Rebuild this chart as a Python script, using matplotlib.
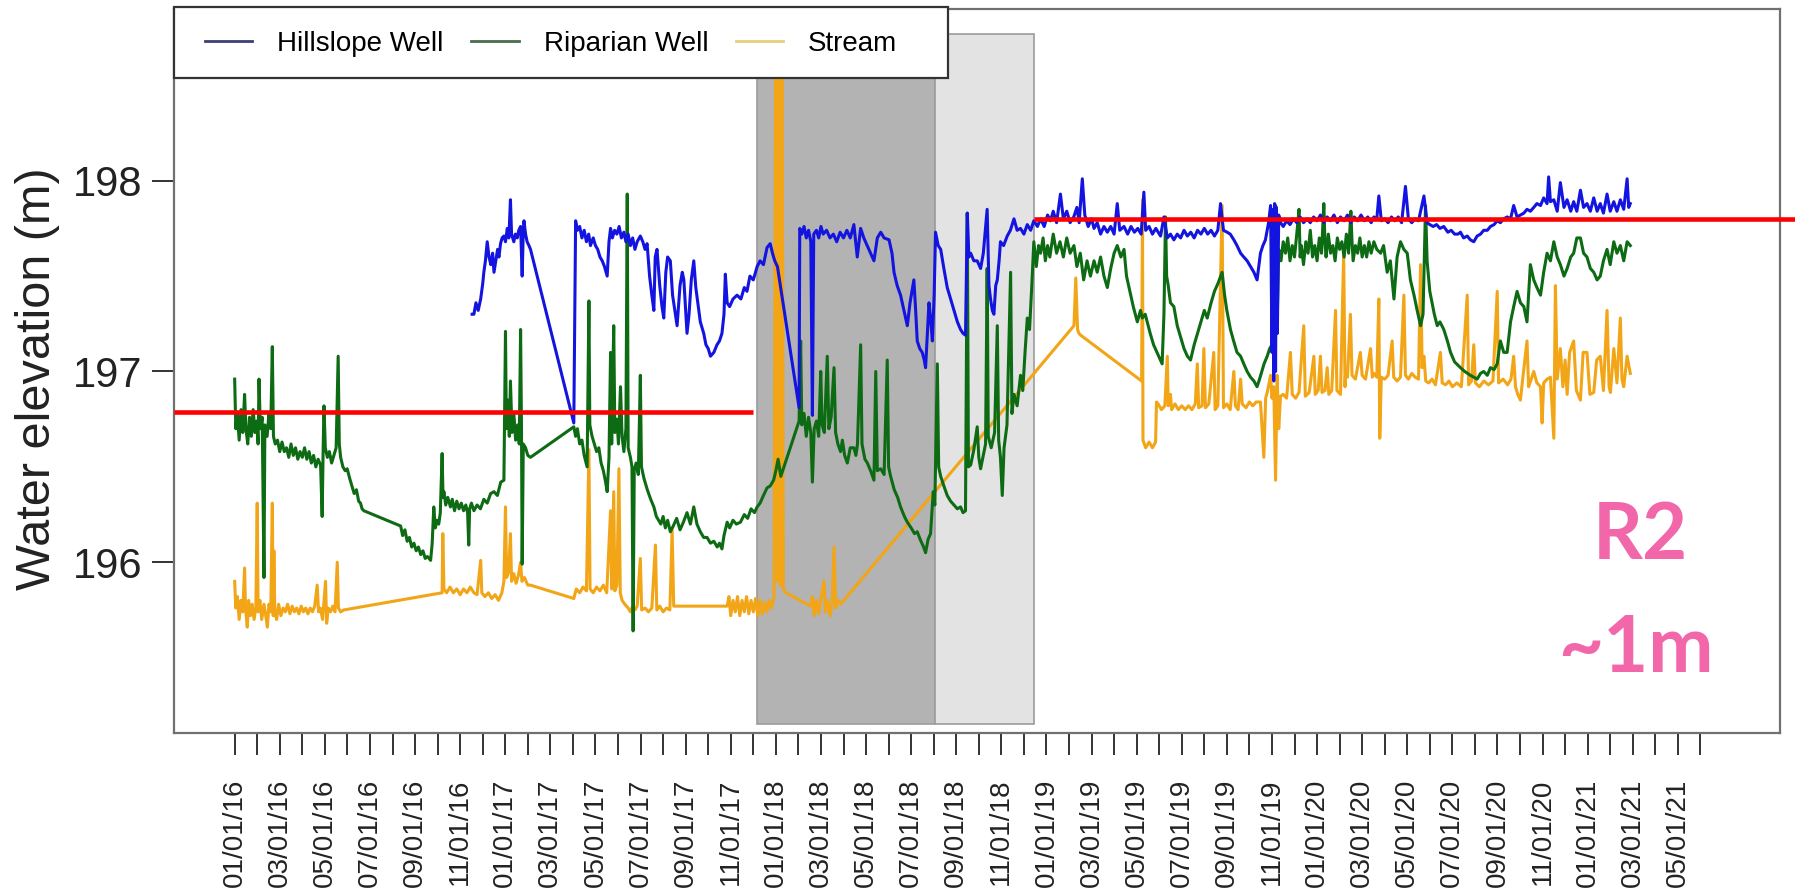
import matplotlib.pyplot as plt
from matplotlib.lines import Line2D
from matplotlib.patches import Rectangle

plt.rcParams['font.family'] = ['Liberation Sans', 'DejaVu Sans']

# time is in months since 01/01/2016, values are water elevation (m)
hillslope = [
    (10.53, 197.30), (10.61, 197.30), (10.70, 197.36), (10.80, 197.32), (10.91, 197.38), (11.00, 197.46),
    (11.05, 197.52), (11.12, 197.58), (11.20, 197.68), (11.28, 197.60), (11.36, 197.56), (11.44, 197.62),
    (11.50, 197.52), (11.58, 197.58), (11.66, 197.64), (11.72, 197.60), (11.79, 197.67), (11.86, 197.70),
    (11.94, 197.71), (12.01, 197.68), (12.09, 197.75), (12.16, 197.70), (12.23, 197.90), (12.28, 197.72),
    (12.38, 197.68), (12.45, 197.72), (12.53, 197.70), (12.60, 197.74), (12.68, 197.76), (12.75, 197.50),
    (12.80, 197.74), (12.83, 197.79), (12.90, 197.72), (12.97, 197.68), (13.05, 197.66), (13.12, 197.64),
    (15.04, 196.73), (15.12, 197.79), (15.20, 197.74), (15.30, 197.76), (15.40, 197.70), (15.50, 197.74),
    (15.60, 197.68), (15.70, 197.72), (15.78, 197.66), (15.90, 197.70), (16.00, 197.66), (16.10, 197.64),
    (16.20, 197.60), (16.30, 197.58), (16.40, 197.55), (16.52, 197.50), (16.60, 197.68), (16.67, 197.75),
    (16.75, 197.70), (16.85, 197.74), (16.95, 197.72), (17.05, 197.76), (17.15, 197.70), (17.26, 197.73),
    (17.35, 197.68), (17.45, 197.72), (17.55, 197.66), (17.65, 197.70), (17.75, 197.64), (17.85, 197.68),
    (17.99, 197.71), (18.10, 197.68), (18.20, 197.64), (18.29, 197.67), (18.40, 197.50), (18.50, 197.40),
    (18.59, 197.32), (18.65, 197.60), (18.73, 197.64), (18.85, 197.45), (18.95, 197.34), (19.03, 197.28),
    (19.12, 197.52), (19.20, 197.60), (19.32, 197.58), (19.42, 197.40), (19.52, 197.32), (19.62, 197.24),
    (19.75, 197.45), (19.85, 197.52), (19.92, 197.48), (20.00, 197.32), (20.06, 197.20), (20.15, 197.30),
    (20.25, 197.48), (20.36, 197.58), (20.45, 197.44), (20.55, 197.35), (20.65, 197.26), (20.80, 197.20),
    (20.90, 197.14), (21.00, 197.12), (21.10, 197.08), (21.25, 197.10), (21.39, 197.14), (21.50, 197.16),
    (21.61, 197.20), (21.70, 197.30), (21.76, 197.51), (21.84, 197.36), (21.95, 197.34), (22.10, 197.38),
    (22.28, 197.40), (22.45, 197.38), (22.60, 197.44), (22.72, 197.42), (22.85, 197.50), (23.00, 197.48),
    (23.17, 197.55), (23.30, 197.58), (23.45, 197.56), (23.61, 197.65), (23.75, 197.67), (23.85, 197.62),
    (23.95, 197.58), (24.07, 197.55), (25.03, 196.81), (25.06, 197.75), (25.15, 197.72), (25.25, 197.76),
    (25.35, 197.70), (25.45, 197.74), (25.55, 197.68), (25.62, 196.77), (25.68, 197.72), (25.80, 197.74),
    (25.90, 197.70), (26.00, 197.76), (26.10, 197.72), (26.25, 197.74), (26.40, 197.70), (26.55, 197.72),
    (26.70, 197.68), (26.85, 197.73), (27.00, 197.70), (27.15, 197.74), (27.30, 197.70), (27.46, 197.77),
    (27.61, 197.60), (27.76, 197.75), (27.90, 197.70), (28.05, 197.66), (28.20, 197.62), (28.35, 197.58),
    (28.50, 197.70), (28.65, 197.73), (28.80, 197.70), (29.02, 197.69), (29.15, 197.62), (29.24, 197.52),
    (29.38, 197.45), (29.53, 197.40), (29.68, 197.32), (29.83, 197.24), (29.95, 197.36), (30.12, 197.48),
    (30.20, 197.32), (30.27, 197.16), (30.38, 197.12), (30.49, 197.10), (30.58, 197.06), (30.64, 197.02),
    (30.72, 197.20), (30.79, 197.36), (30.86, 197.28), (30.94, 197.16), (31.02, 197.40), (31.08, 197.73),
    (31.20, 197.66), (31.31, 197.64), (31.45, 197.54), (31.60, 197.44), (31.75, 197.38), (31.90, 197.32),
    (32.05, 197.26), (32.19, 197.22), (32.30, 197.20), (32.41, 197.19), (32.49, 197.83), (32.56, 197.60),
    (32.64, 197.62), (32.78, 197.58), (32.93, 197.58), (33.08, 197.54), (33.20, 197.62), (33.37, 197.85),
    (33.45, 197.45), (33.52, 197.38), (33.60, 197.32), (33.67, 197.30), (33.75, 197.45), (33.82, 197.48),
    (33.90, 197.58), (33.96, 197.68), (34.10, 197.66), (34.26, 197.71), (34.40, 197.74), (34.56, 197.80),
    (34.70, 197.74), (34.85, 197.75), (35.00, 197.72), (35.15, 197.77), (35.30, 197.74), (35.44, 197.79),
    (35.60, 197.76), (35.74, 197.80), (35.90, 197.76), (36.05, 197.82), (36.18, 197.79), (36.30, 197.84),
    (36.45, 197.78), (36.62, 197.93), (36.75, 197.80), (36.90, 197.84), (37.05, 197.78), (37.21, 197.81),
    (37.35, 197.86), (37.45, 197.78), (37.59, 198.01), (37.70, 197.82), (37.85, 197.76), (38.00, 197.80),
    (38.11, 197.75), (38.25, 197.78), (38.40, 197.72), (38.55, 197.76), (38.70, 197.73), (38.85, 197.76),
    (39.00, 197.72), (39.14, 197.88), (39.25, 197.74), (39.44, 197.76), (39.60, 197.72), (39.75, 197.76),
    (39.90, 197.73), (40.05, 197.75), (40.20, 197.72), (40.32, 197.94), (40.40, 197.74), (40.55, 197.76),
    (40.70, 197.72), (40.85, 197.75), (41.06, 197.71), (41.21, 197.81), (41.36, 197.70), (41.50, 197.72),
    (41.65, 197.69), (41.80, 197.72), (41.95, 197.70), (42.10, 197.74), (42.25, 197.71), (42.40, 197.73),
    (42.55, 197.70), (42.70, 197.74), (42.85, 197.72), (43.00, 197.75), (43.15, 197.72), (43.30, 197.74),
    (43.45, 197.71), (43.60, 197.74), (43.72, 197.88), (43.85, 197.74), (44.01, 197.73), (44.15, 197.72),
    (44.31, 197.69), (44.45, 197.66), (44.61, 197.62), (44.75, 197.60), (44.90, 197.58), (45.05, 197.55),
    (45.20, 197.52), (45.34, 197.48), (45.49, 197.62), (45.60, 197.66), (45.71, 197.69), (45.85, 197.78),
    (45.94, 197.87), (46.00, 197.10), (46.04, 197.85), (46.08, 196.95), (46.12, 197.88), (46.16, 197.00),
    (46.20, 197.86), (46.24, 197.20), (46.30, 197.82), (46.38, 197.78), (46.50, 197.76), (46.65, 197.79),
    (46.80, 197.77), (46.95, 197.80), (47.10, 197.78), (47.25, 197.81), (47.40, 197.78), (47.56, 197.80),
    (47.70, 197.78), (47.85, 197.81), (48.00, 197.79), (48.15, 197.82), (48.30, 197.78), (48.45, 197.81),
    (48.60, 197.79), (48.75, 197.82), (48.90, 197.78), (49.04, 197.81), (49.20, 197.79), (49.35, 197.82),
    (49.50, 197.78), (49.65, 197.81), (49.80, 197.79), (49.95, 197.82), (50.10, 197.79), (50.25, 197.81),
    (50.40, 197.78), (50.52, 197.81), (50.65, 197.80), (50.74, 197.92), (50.85, 197.79), (51.00, 197.80),
    (51.15, 197.78), (51.30, 197.81), (51.45, 197.79), (51.60, 197.81), (51.75, 197.78), (51.92, 197.97),
    (52.05, 197.80), (52.20, 197.78), (52.35, 197.80), (52.50, 197.79), (52.74, 197.92), (52.88, 197.78),
    (53.00, 197.77), (53.15, 197.76), (53.30, 197.77), (53.45, 197.75), (53.62, 197.76), (53.80, 197.73),
    (53.95, 197.74), (54.10, 197.72), (54.25, 197.72), (54.36, 197.73), (54.50, 197.70), (54.66, 197.71),
    (54.80, 197.69), (54.95, 197.68), (55.10, 197.71), (55.25, 197.72), (55.39, 197.74), (55.55, 197.74),
    (55.69, 197.76), (55.85, 197.77), (55.99, 197.79), (56.13, 197.78), (56.28, 197.80), (56.43, 197.81),
    (56.58, 197.80), (56.72, 197.87), (56.87, 197.81), (57.02, 197.82), (57.17, 197.83), (57.31, 197.85),
    (57.46, 197.84), (57.61, 197.86), (57.75, 197.88), (57.91, 197.87), (58.05, 197.91), (58.20, 197.88),
    (58.27, 198.02), (58.35, 197.89), (58.50, 197.90), (58.65, 197.84), (58.79, 197.99), (58.95, 197.86),
    (59.09, 197.90), (59.25, 197.84), (59.38, 197.89), (59.52, 197.84), (59.68, 197.95), (59.82, 197.86),
    (59.97, 197.88), (60.12, 197.84), (60.27, 197.91), (60.42, 197.84), (60.56, 197.88), (60.70, 197.83),
    (60.86, 197.93), (61.00, 197.84), (61.16, 197.89), (61.30, 197.84), (61.45, 197.90), (61.60, 197.85),
    (61.75, 198.01), (61.82, 197.86), (61.89, 197.88),
]

riparian = [
    (0.00, 196.96), (0.05, 196.70), (0.12, 196.78), (0.20, 196.64), (0.28, 196.80), (0.36, 196.68),
    (0.44, 196.88), (0.50, 196.70), (0.58, 196.62), (0.66, 196.76), (0.74, 196.66), (0.82, 196.80),
    (0.90, 196.68), (0.98, 196.74), (1.04, 196.62), (1.08, 196.96), (1.14, 196.70), (1.22, 196.76),
    (1.30, 195.92), (1.34, 196.72), (1.44, 196.66), (1.52, 196.78), (1.60, 196.70), (1.67, 197.13),
    (1.72, 196.66), (1.80, 196.62), (1.90, 196.64), (2.00, 196.58), (2.10, 196.63), (2.20, 196.58),
    (2.30, 196.60), (2.40, 196.55), (2.50, 196.62), (2.60, 196.56), (2.70, 196.60), (2.80, 196.54),
    (2.90, 196.58), (3.00, 196.55), (3.10, 196.60), (3.20, 196.54), (3.30, 196.58), (3.40, 196.52),
    (3.50, 196.56), (3.60, 196.50), (3.70, 196.54), (3.81, 196.51), (3.88, 196.24), (3.92, 196.56),
    (3.96, 196.82), (4.02, 196.60), (4.11, 196.55), (4.20, 196.58), (4.30, 196.52), (4.40, 196.56),
    (4.50, 196.60), (4.59, 197.08), (4.64, 196.62), (4.70, 196.55), (4.80, 196.50), (4.90, 196.48),
    (4.99, 196.49), (5.10, 196.44), (5.20, 196.40), (5.30, 196.36), (5.40, 196.38), (5.50, 196.32),
    (5.58, 196.31), (5.65, 196.28), (5.73, 196.27), (7.36, 196.19), (7.45, 196.14), (7.55, 196.17),
    (7.65, 196.11), (7.75, 196.13), (7.85, 196.08), (7.95, 196.10), (8.05, 196.06), (8.15, 196.08),
    (8.25, 196.04), (8.35, 196.06), (8.45, 196.02), (8.55, 196.03), (8.69, 196.01), (8.76, 196.10),
    (8.83, 196.29), (8.90, 196.18), (8.97, 196.22), (9.05, 196.20), (9.12, 196.26), (9.20, 196.57),
    (9.24, 196.34), (9.28, 196.37), (9.36, 196.30), (9.45, 196.34), (9.57, 196.29), (9.65, 196.33),
    (9.75, 196.27), (9.85, 196.32), (9.95, 196.28), (10.05, 196.31), (10.15, 196.27), (10.25, 196.30),
    (10.33, 196.26), (10.38, 196.09), (10.42, 196.28), (10.50, 196.31), (10.61, 196.27), (10.75, 196.30),
    (10.90, 196.28), (11.05, 196.33), (11.20, 196.31), (11.35, 196.36), (11.50, 196.37), (11.65, 196.35),
    (11.80, 196.42), (11.94, 196.43), (12.01, 197.21), (12.05, 196.70), (12.12, 196.85), (12.18, 196.66),
    (12.23, 196.95), (12.30, 196.68), (12.38, 196.78), (12.46, 196.64), (12.55, 196.72), (12.62, 196.62),
    (12.68, 197.22), (12.72, 196.70), (12.75, 195.99), (12.80, 196.62), (12.90, 196.60), (13.00, 196.56),
    (13.12, 196.55), (15.04, 196.71), (15.12, 196.66), (15.20, 196.70), (15.30, 196.62), (15.40, 196.64),
    (15.50, 196.56), (15.63, 196.50), (15.71, 197.37), (15.75, 196.72), (15.85, 196.66), (15.95, 196.62),
    (16.05, 196.58), (16.15, 196.60), (16.25, 196.52), (16.35, 196.48), (16.45, 196.42), (16.52, 196.37),
    (16.60, 196.55), (16.67, 197.10), (16.72, 196.62), (16.81, 197.24), (16.86, 196.68), (16.95, 196.75),
    (17.02, 196.62), (17.11, 196.92), (17.18, 196.66), (17.26, 196.58), (17.35, 196.70), (17.41, 197.93),
    (17.45, 196.60), (17.55, 196.55), (17.62, 196.50), (17.67, 195.64), (17.72, 196.48), (17.80, 196.52),
    (17.90, 196.46), (17.99, 196.98), (18.04, 196.50), (18.15, 196.44), (18.30, 196.38), (18.45, 196.33),
    (18.59, 196.29), (18.70, 196.24), (18.80, 196.22), (18.90, 196.20), (19.00, 196.24), (19.10, 196.18),
    (19.20, 196.22), (19.32, 196.16), (19.45, 196.19), (19.60, 196.23), (19.75, 196.17), (19.90, 196.21),
    (20.06, 196.26), (20.21, 196.20), (20.36, 196.29), (20.50, 196.20), (20.65, 196.16), (20.80, 196.13),
    (20.95, 196.13), (21.10, 196.10), (21.25, 196.11), (21.40, 196.08), (21.50, 196.10), (21.61, 196.07),
    (21.70, 196.14), (21.84, 196.21), (21.95, 196.18), (22.10, 196.22), (22.25, 196.20), (22.43, 196.21),
    (22.60, 196.25), (22.75, 196.23), (22.90, 196.28), (23.05, 196.26), (23.17, 196.29), (23.30, 196.31),
    (23.45, 196.35), (23.61, 196.39), (23.75, 196.40), (23.90, 196.43), (24.00, 196.48), (24.10, 196.54),
    (24.22, 196.45), (25.03, 196.74), (25.10, 197.16), (25.15, 196.72), (25.25, 196.78), (25.35, 196.66),
    (25.45, 196.76), (25.55, 196.68), (25.62, 196.42), (25.70, 196.70), (25.80, 196.74), (25.90, 196.66),
    (25.99, 197.00), (26.05, 196.72), (26.15, 196.68), (26.28, 197.08), (26.35, 196.70), (26.45, 196.76),
    (26.58, 197.02), (26.65, 196.68), (26.75, 196.62), (26.87, 196.58), (26.95, 196.64), (27.05, 196.56),
    (27.17, 196.52), (27.30, 196.60), (27.46, 196.60), (27.55, 196.56), (27.62, 196.62), (27.76, 197.14),
    (27.82, 196.62), (27.95, 196.54), (28.06, 196.52), (28.20, 196.48), (28.35, 196.43), (28.43, 197.00),
    (28.50, 196.48), (28.65, 196.49), (28.80, 196.46), (28.94, 197.06), (29.00, 196.50), (29.09, 196.45),
    (29.25, 196.38), (29.40, 196.34), (29.53, 196.29), (29.70, 196.24), (29.83, 196.21), (30.00, 196.18),
    (30.15, 196.15), (30.27, 196.16), (30.40, 196.12), (30.55, 196.08), (30.64, 196.05), (30.75, 196.12),
    (30.86, 196.15), (30.98, 196.37), (31.05, 196.30), (31.16, 197.04), (31.22, 196.50), (31.31, 196.45),
    (31.45, 196.40), (31.60, 196.35), (31.75, 196.32), (31.90, 196.30), (32.05, 196.28), (32.19, 196.29),
    (32.30, 196.26), (32.41, 196.27), (32.49, 197.83), (32.54, 196.50), (32.64, 196.51), (32.78, 196.59),
    (32.93, 196.71), (33.00, 196.55), (33.08, 196.49), (33.20, 196.56), (33.30, 196.62), (33.37, 197.54),
    (33.42, 196.66), (33.55, 196.60), (33.70, 196.68), (33.82, 197.24), (33.88, 196.64), (33.96, 196.55),
    (34.04, 196.35), (34.12, 196.60), (34.25, 196.72), (34.41, 197.52), (34.47, 196.78), (34.56, 196.88),
    (34.70, 196.82), (34.85, 196.98), (34.95, 196.90), (35.05, 197.10), (35.15, 197.28), (35.25, 197.22),
    (35.35, 197.45), (35.44, 197.68), (35.55, 197.55), (35.65, 197.66), (35.74, 197.62), (35.85, 197.70),
    (35.95, 197.58), (36.05, 197.66), (36.15, 197.60), (36.30, 197.72), (36.45, 197.62), (36.60, 197.68),
    (36.75, 197.60), (36.90, 197.70), (37.05, 197.62), (37.22, 197.66), (37.35, 197.55), (37.50, 197.62),
    (37.65, 197.48), (37.80, 197.58), (37.95, 197.50), (38.11, 197.58), (38.25, 197.52), (38.40, 197.60),
    (38.55, 197.50), (38.70, 197.44), (38.85, 197.54), (39.00, 197.62), (39.14, 197.66), (39.30, 197.60),
    (39.44, 197.64), (39.55, 197.50), (39.70, 197.42), (39.85, 197.34), (40.03, 197.26), (40.17, 197.32),
    (40.25, 197.28), (40.38, 197.30), (40.47, 197.26), (40.60, 197.20), (40.75, 197.14), (40.90, 197.10),
    (41.05, 197.06), (41.13, 197.04), (41.21, 197.30), (41.28, 197.81), (41.33, 197.50), (41.40, 197.45),
    (41.50, 197.36), (41.65, 197.34), (41.80, 197.24), (41.95, 197.18), (42.10, 197.12), (42.25, 197.08),
    (42.39, 197.06), (42.55, 197.14), (42.70, 197.20), (42.85, 197.26), (43.00, 197.32), (43.13, 197.28),
    (43.30, 197.36), (43.45, 197.42), (43.60, 197.46), (43.79, 197.52), (43.90, 197.40), (44.00, 197.32),
    (44.16, 197.22), (44.30, 197.16), (44.45, 197.10), (44.61, 197.08), (44.75, 197.04), (44.90, 197.00),
    (45.05, 196.97), (45.20, 196.95), (45.34, 196.92), (45.45, 196.96), (45.55, 197.00), (45.65, 197.04),
    (45.79, 197.08), (45.90, 197.12), (46.00, 197.14), (46.08, 197.16), (46.16, 197.87), (46.22, 197.20),
    (46.30, 197.64), (46.40, 197.58), (46.50, 197.68), (46.60, 197.62), (46.70, 197.70), (46.80, 197.58),
    (46.90, 197.66), (47.00, 197.60), (47.10, 197.72), (47.20, 197.85), (47.25, 197.60), (47.30, 197.66),
    (47.40, 197.56), (47.50, 197.68), (47.60, 197.62), (47.70, 197.74), (47.80, 197.60), (47.90, 197.66),
    (48.00, 197.58), (48.10, 197.70), (48.20, 197.62), (48.30, 197.88), (48.35, 197.68), (48.40, 197.60),
    (48.50, 197.72), (48.60, 197.62), (48.70, 197.66), (48.80, 197.58), (48.90, 197.70), (49.00, 197.64),
    (49.10, 197.68), (49.20, 197.60), (49.30, 197.72), (49.40, 197.62), (49.50, 197.84), (49.55, 197.68),
    (49.60, 197.58), (49.70, 197.66), (49.80, 197.62), (49.90, 197.70), (50.00, 197.60), (50.10, 197.66),
    (50.20, 197.60), (50.30, 197.68), (50.40, 197.62), (50.52, 197.68), (50.65, 197.64), (50.82, 197.62),
    (50.95, 197.66), (51.11, 197.52), (51.25, 197.58), (51.41, 197.38), (51.55, 197.60), (51.70, 197.68),
    (51.85, 197.64), (52.00, 197.62), (52.14, 197.48), (52.30, 197.40), (52.44, 197.32), (52.59, 197.24),
    (52.70, 197.30), (52.81, 197.87), (52.88, 197.58), (53.00, 197.42), (53.10, 197.36), (53.20, 197.30),
    (53.33, 197.24), (53.45, 197.26), (53.62, 197.22), (53.78, 197.16), (53.92, 197.10), (54.10, 197.05),
    (54.36, 197.02), (54.55, 197.00), (54.80, 196.98), (54.95, 196.97), (55.10, 196.96), (55.25, 196.99),
    (55.39, 197.00), (55.55, 196.98), (55.69, 197.02), (55.85, 197.01), (55.99, 197.04), (56.13, 197.16),
    (56.28, 197.10), (56.43, 197.10), (56.58, 197.26), (56.72, 197.34), (56.87, 197.42), (57.02, 197.36),
    (57.17, 197.34), (57.31, 197.26), (57.46, 197.56), (57.61, 197.48), (57.75, 197.44), (57.91, 197.40),
    (58.05, 197.52), (58.20, 197.62), (58.35, 197.58), (58.50, 197.68), (58.65, 197.60), (58.79, 197.56),
    (58.95, 197.50), (59.09, 197.54), (59.25, 197.60), (59.38, 197.62), (59.52, 197.70), (59.68, 197.70),
    (59.82, 197.62), (59.97, 197.60), (60.12, 197.54), (60.27, 197.52), (60.42, 197.48), (60.56, 197.50),
    (60.70, 197.58), (60.86, 197.64), (61.00, 197.56), (61.16, 197.68), (61.30, 197.62), (61.45, 197.66),
    (61.60, 197.58), (61.75, 197.68), (61.89, 197.66),
]

stream = [
    (0.00, 195.90), (0.05, 195.76), (0.12, 195.82), (0.20, 195.70), (0.28, 195.80), (0.36, 195.74),
    (0.44, 195.97), (0.48, 195.76), (0.56, 195.66), (0.62, 195.80), (0.70, 195.72), (0.78, 195.78),
    (0.86, 195.70), (0.94, 195.76), (1.00, 196.31), (1.04, 195.74), (1.12, 195.80), (1.20, 195.70),
    (1.30, 195.78), (1.38, 195.72), (1.45, 195.66), (1.52, 195.78), (1.60, 195.74), (1.67, 196.31),
    (1.71, 195.72), (1.74, 196.06), (1.78, 195.74), (1.86, 195.70), (1.95, 195.78), (2.05, 195.72),
    (2.15, 195.76), (2.25, 195.74), (2.35, 195.78), (2.45, 195.73), (2.55, 195.77), (2.65, 195.74),
    (2.75, 195.76), (2.85, 195.73), (2.95, 195.77), (3.05, 195.74), (3.15, 195.76), (3.25, 195.73),
    (3.35, 195.76), (3.45, 195.74), (3.55, 195.77), (3.66, 195.88), (3.72, 195.74), (3.80, 195.76),
    (3.90, 195.70), (4.03, 195.90), (4.08, 195.68), (4.15, 195.76), (4.25, 195.74), (4.35, 195.77),
    (4.45, 195.74), (4.55, 196.00), (4.60, 195.76), (4.70, 195.74), (4.84, 195.75), (9.20, 195.84),
    (9.23, 196.15), (9.28, 195.86), (9.40, 195.84), (9.55, 195.87), (9.70, 195.84), (9.85, 195.86),
    (10.00, 195.83), (10.15, 195.86), (10.30, 195.84), (10.45, 195.87), (10.61, 195.84), (10.75, 195.83),
    (10.91, 196.01), (10.96, 195.84), (11.10, 195.82), (11.25, 195.84), (11.40, 195.81), (11.55, 195.83),
    (11.70, 195.80), (11.85, 195.84), (11.94, 195.90), (12.01, 196.29), (12.06, 195.92), (12.15, 195.95),
    (12.23, 196.15), (12.28, 195.90), (12.38, 195.94), (12.48, 195.89), (12.58, 195.93), (12.68, 196.00),
    (12.74, 195.90), (12.85, 195.92), (13.00, 195.88), (13.12, 195.88), (15.04, 195.81), (15.15, 195.86),
    (15.30, 195.84), (15.45, 195.87), (15.60, 195.85), (15.71, 196.59), (15.76, 195.86), (15.90, 195.84),
    (16.05, 195.87), (16.20, 195.85), (16.35, 195.88), (16.50, 195.84), (16.67, 196.27), (16.72, 195.86),
    (16.81, 196.37), (16.86, 195.85), (16.95, 195.88), (17.04, 196.49), (17.10, 195.84), (17.18, 195.80),
    (17.30, 195.78), (17.45, 195.76), (17.55, 195.74), (17.65, 195.77), (17.75, 195.75), (17.85, 195.77),
    (17.99, 196.02), (18.05, 195.75), (18.20, 195.76), (18.35, 195.74), (18.50, 195.76), (18.66, 196.09),
    (18.72, 195.75), (18.85, 195.77), (19.00, 195.74), (19.15, 195.76), (19.30, 195.75), (19.40, 196.17),
    (19.47, 195.77), (21.84, 195.77), (21.92, 195.82), (22.00, 195.72), (22.10, 195.80), (22.20, 195.74),
    (22.30, 195.82), (22.40, 195.72), (22.50, 195.80), (22.60, 195.74), (22.70, 195.82), (22.80, 195.73),
    (22.90, 195.80), (23.00, 195.74), (23.10, 195.81), (23.20, 195.72), (23.30, 195.80), (23.40, 195.73),
    (23.50, 195.79), (23.60, 195.74), (23.70, 195.80), (23.80, 195.76), (23.92, 195.82), (24.00, 199.30),
    (24.07, 195.90), (24.13, 199.30), (24.20, 195.88), (24.27, 199.30), (24.33, 195.86), (24.45, 195.84),
    (25.54, 195.77), (25.62, 195.82), (25.70, 195.72), (25.80, 195.80), (25.90, 195.73), (26.00, 195.81),
    (26.14, 195.90), (26.20, 195.74), (26.30, 195.80), (26.40, 195.72), (26.50, 195.79), (26.58, 196.08),
    (26.65, 195.76), (26.75, 195.80), (26.87, 195.78), (37.22, 197.24), (37.30, 197.49), (37.38, 197.22),
    (37.44, 197.20), (37.52, 197.19), (40.22, 196.95), (40.26, 197.90), (40.28, 196.64), (40.40, 196.60),
    (40.55, 196.63), (40.70, 196.60), (40.84, 196.63), (40.88, 196.84), (40.95, 196.83), (41.10, 196.80),
    (41.25, 196.82), (41.36, 197.08), (41.40, 196.82), (41.50, 196.88), (41.55, 196.80), (41.70, 196.83),
    (41.85, 196.80), (42.00, 196.82), (42.15, 196.80), (42.30, 196.82), (42.45, 196.80), (42.60, 196.83),
    (42.69, 197.04), (42.75, 196.81), (42.90, 196.82), (42.98, 197.12), (43.05, 196.81), (43.20, 196.83),
    (43.42, 197.10), (43.48, 196.80), (43.60, 196.82), (43.79, 197.87), (43.85, 196.81), (44.00, 196.83),
    (44.15, 196.80), (44.31, 197.00), (44.38, 196.82), (44.50, 196.80), (44.61, 196.96), (44.68, 196.83),
    (44.85, 196.81), (45.00, 196.84), (45.15, 196.82), (45.30, 196.84), (45.49, 196.84), (45.64, 196.55),
    (45.72, 196.86), (45.79, 196.89), (45.94, 196.98), (46.00, 196.86), (46.08, 196.92), (46.16, 196.43),
    (46.23, 196.98), (46.30, 196.70), (46.38, 196.87), (46.50, 196.88), (46.65, 196.86), (46.82, 197.10),
    (46.90, 196.88), (47.05, 196.86), (47.20, 196.89), (47.41, 197.24), (47.48, 196.87), (47.65, 196.89),
    (47.86, 197.08), (47.92, 196.88), (48.05, 196.90), (48.15, 197.08), (48.22, 196.89), (48.35, 196.90),
    (48.45, 197.02), (48.52, 196.88), (48.65, 196.90), (48.82, 197.32), (48.88, 196.90), (49.04, 196.88),
    (49.18, 197.62), (49.24, 196.92), (49.26, 196.98), (49.35, 196.97), (49.48, 197.30), (49.55, 196.98),
    (49.70, 196.96), (49.92, 197.10), (50.00, 196.98), (50.15, 196.96), (50.37, 197.12), (50.45, 196.97),
    (50.52, 196.99), (50.65, 196.97), (50.74, 197.38), (50.78, 196.65), (50.85, 196.97), (51.00, 196.96),
    (51.15, 196.98), (51.33, 197.16), (51.40, 196.97), (51.55, 196.95), (51.70, 196.97), (51.85, 197.40),
    (51.92, 196.98), (52.05, 196.96), (52.20, 196.99), (52.35, 196.97), (52.50, 196.96), (52.59, 197.56),
    (52.66, 197.02), (52.74, 197.08), (52.82, 196.95), (52.95, 196.94), (53.10, 196.96), (53.25, 196.93),
    (53.47, 197.10), (53.55, 196.94), (53.70, 196.93), (53.85, 196.95), (54.00, 196.92), (54.20, 196.94),
    (54.40, 196.92), (54.66, 197.40), (54.72, 196.93), (54.85, 196.95), (54.95, 197.14), (55.02, 196.94),
    (55.20, 196.92), (55.40, 196.95), (55.60, 196.93), (55.80, 196.95), (55.99, 197.42), (56.05, 196.94),
    (56.25, 196.96), (56.45, 196.93), (56.60, 196.96), (56.72, 197.08), (56.80, 196.92), (56.90, 196.88),
    (57.02, 196.85), (57.10, 196.94), (57.31, 197.16), (57.38, 196.92), (57.50, 196.96), (57.61, 197.00),
    (57.75, 196.94), (57.91, 196.92), (57.98, 196.73), (58.05, 196.94), (58.20, 196.96), (58.35, 196.97),
    (58.50, 196.65), (58.57, 197.45), (58.65, 196.96), (58.79, 197.12), (58.90, 196.92), (59.00, 197.06),
    (59.09, 196.88), (59.20, 197.10), (59.38, 197.16), (59.50, 196.90), (59.68, 196.85), (59.80, 197.10),
    (59.97, 197.10), (60.10, 196.88), (60.27, 196.89), (60.40, 197.06), (60.56, 197.08), (60.70, 196.90),
    (60.86, 197.32), (60.95, 196.92), (61.01, 196.89), (61.16, 197.12), (61.30, 196.94), (61.45, 197.28),
    (61.52, 196.96), (61.60, 196.92), (61.75, 197.08), (61.89, 196.99),
]

month_labels = [
    "01/01/16", "03/01/16", "05/01/16", "07/01/16", "09/01/16", "11/01/16",
    "01/01/17", "03/01/17", "05/01/17", "07/01/17", "09/01/17", "11/01/17",
    "01/01/18", "03/01/18", "05/01/18", "07/01/18", "09/01/18", "11/01/18",
    "01/01/19", "03/01/19", "05/01/19", "07/01/19", "09/01/19", "11/01/19",
    "01/01/20", "03/01/20", "05/01/20", "07/01/20", "09/01/20", "11/01/20",
    "01/01/21", "03/01/21", "05/01/21",
]
n_month_ticks = 66  # one tick per month, 01/16 .. 06/21

# shaded periods (months) and their vertical extent
dark_period = (23.15, 31.06)
light_period = (31.06, 35.45)
shade_range = (195.15, 198.77)

# red reference levels
level_before = 196.79
level_after = 197.80
before_span = (-2.69, 23.0)
after_span = (35.43, 69.2)

fig = plt.figure(figsize=(17.95, 8.96), dpi=100)
ax = fig.add_axes([174 / 1795, 163 / 896, 1606 / 1795, 724 / 896])
ax.set_xlim(-2.69, 68.53)
ax.set_ylim(195.105, 198.90)

for (x0, x1), col in [(dark_period, '#b3b3b3'), (light_period, '#e3e3e3')]:
    ax.add_patch(Rectangle((x0, shade_range[0]), x1 - x0, shade_range[1] - shade_range[0],
                           facecolor=col, edgecolor='#9c9c9c', lw=1.2, zorder=1))

c_hill, c_rip, c_stream = '#1414e0', '#0d6b14', '#f2a516'
t, v = zip(*stream)
ax.plot(t, v, color=c_stream, lw=2.2, zorder=2)
t, v = zip(*riparian)
ax.plot(t, v, color=c_rip, lw=2.2, zorder=3)
t, v = zip(*hillslope)
ax.plot(t, v, color=c_hill, lw=2.2, zorder=4)

ax.plot(before_span, [level_before] * 2, color='#ff0000', lw=3.3, zorder=5, solid_capstyle='butt')
ax.plot(after_span, [level_after] * 2, color='#ff0000', lw=3.3, zorder=5, clip_on=False,
        solid_capstyle='butt')

# axes styling
for s in ax.spines.values():
    s.set_color('#707070')
    s.set_linewidth(1.6)
ax.set_yticks([196, 197, 198])
ax.tick_params(axis='y', length=16, width=1.4, color='#333333', pad=7, labelsize=30,
               labelcolor='#222222')
ax.set_xticks(range(n_month_ticks))
xlabels = []
for i in range(n_month_ticks):
    xlabels.append(month_labels[i // 2] if i % 2 == 0 and i // 2 < len(month_labels) else '')
ax.set_xticklabels(xlabels, rotation=90)
ax.tick_params(axis='x', length=16, width=1.4, color='#333333', pad=17, labelsize=20,
               labelcolor='#222222')

fig.text(38 / 1795, 1 - 379 / 896, 'Water elevation (m)', rotation=90, ha='center', va='center',
         fontsize=35, color='#222222')

# legend with a wide box
ax.add_patch(Rectangle((0, 0.9047), 0.482, 0.098, transform=ax.transAxes, facecolor='white',
                       edgecolor='#333333', lw=1.6, zorder=6, clip_on=False))
handles = [Line2D([], [], color='#3d3f73', lw=2),
           Line2D([], [], color='#466e4e', lw=2),
           Line2D([], [], color='#e6cf7a', lw=2)]
leg = ax.legend(handles, ['Hillslope Well', 'Riparian Well', 'Stream'], ncol=3, loc='center left',
                bbox_to_anchor=(31 / 1606, (733 - 44) / 724), frameon=False,
                prop={'family': ['Liberation Sans Narrow', 'Liberation Sans'], 'size': 20},
                handlelength=1.7, handletextpad=0.9, columnspacing=1.0,
                borderpad=0, borderaxespad=0)
leg.set_zorder(7)

fig.text(1640 / 1795, 1 - 537 / 896, 'R2', ha='center', va='center', fontsize=56,
         fontweight='bold', family='Lato', color='#f266aa')
fig.text(1636 / 1795, 1 - 650 / 896, '~1m', ha='center', va='center', fontsize=56,
         fontweight='bold', family='Lato', color='#f266aa')

fig.savefig('out.png', dpi=100)
